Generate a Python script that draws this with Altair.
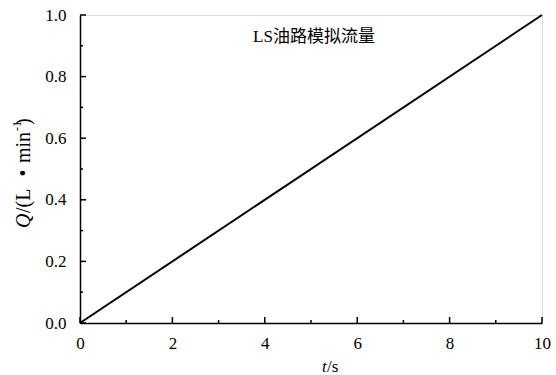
import altair as alt
import pandas as pd

# Simulated LS oil-circuit flow: Q rises linearly with time
t_values = [0, 10]
q_values = [0.0, 1.0]

x_major = [0, 2, 4, 6, 8, 10]
x_minor = [1, 3, 5, 7, 9]
y_major = [0.0, 0.2, 0.4, 0.6, 0.8, 1.0]
y_minor = [0.1, 0.3, 0.5, 0.7, 0.9]

W, H = 462, 308
SERIF = "'Times New Roman', 'Liberation Serif', serif"
CJK = "'Times New Roman', 'Liberation Serif', 'Noto Sans CJK SC', serif"

line_df = pd.DataFrame({"t": t_values, "q": q_values})

xs = alt.Scale(domain=[0, 10], nice=False, zero=False)
ys = alt.Scale(domain=[0, 1.0], nice=False, zero=False)

x_axis = alt.Axis(values=x_major, format="d", tickSize=0, grid=False,
                  domainColor="black", domainWidth=1.5, labelFont=SERIF,
                  labelFontSize=17, labelColor="black", labelPadding=12,
                  labelFlush=False, title=None)
y_axis = alt.Axis(values=y_major, format=".1f", tickSize=0, grid=False,
                  domainColor="black", domainWidth=1.5, labelFont=SERIF,
                  labelFontSize=17, labelColor="black", labelPadding=14,
                  labelFlush=False, title=None)

line = alt.Chart(line_df).mark_line(color="black", strokeWidth=2).encode(
    x=alt.X("t:Q", scale=xs, axis=x_axis),
    y=alt.Y("q:Q", scale=ys, axis=y_axis),
)


def x_ticks(vals, length):
    df = pd.DataFrame({"t": vals})
    return alt.Chart(df).mark_rule(color="black", strokeWidth=1.5).encode(
        x=alt.X("t:Q", scale=xs), y=alt.value(H), y2=alt.value(H - length))


def y_ticks(vals, length):
    df = pd.DataFrame({"q": vals})
    return alt.Chart(df).mark_rule(color="black", strokeWidth=1.5).encode(
        y=alt.Y("q:Q", scale=ys), x=alt.value(0), x2=alt.value(length))


def label(text, x, y, size=17, style="normal", angle=0, align="left",
          baseline="alphabetic", font=SERIF):
    df = pd.DataFrame({"s": [text]})
    return alt.Chart(df).mark_text(
        font=font, fontSize=size, fontStyle=style, angle=angle, align=align,
        baseline=baseline, color="black",
    ).encode(text="s:N", x=alt.value(x), y=alt.value(y))


# rotated y-axis title: Q/(L • min^-1)
ytitle = [
    label("Q", -50, 213, size=20, style="italic", angle=270),
    label("/(L", -50, 198, size=20, angle=270),
    label("•", -50, 158, size=20, angle=270, align="center"),
    label("min", -50, 148, size=20, angle=270),
    label("-1", -59, 116, size=12, angle=270),
    label(")", -50, 110, size=20, angle=270),
]

# x-axis title: t/s
xtitle = [
    label("t", 242, 357, style="italic"),
    label("/s", 247, 357),
]

title = label("LS油路模拟流量", 234, 27, size=17, align="center", font=CJK)

chart = alt.layer(
    line,
    x_ticks(x_major, 6), x_ticks(x_minor, 3),
    y_ticks(y_major, 6), y_ticks(y_minor, 3),
    title, *ytitle, *xtitle,
).properties(
    width=W, height=H,
    padding={"left": 80, "top": 15, "right": 14, "bottom": 52},
    autosize="none",
).configure_view(stroke=None).configure(background="white")

chart.save("out.html", embed_options={"renderer": "svg", "actions": False})
